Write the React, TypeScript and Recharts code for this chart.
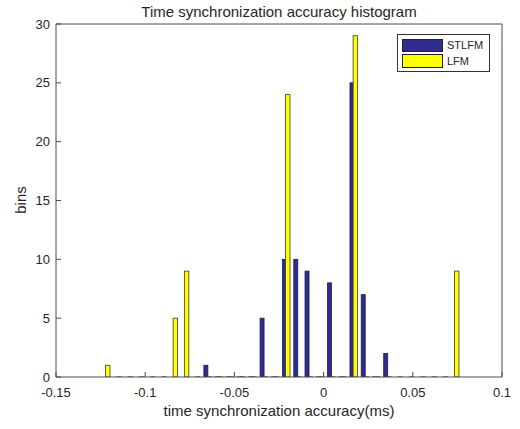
import React from 'react';
import { ComposedChart, Bar, XAxis, YAxis, Legend } from 'recharts';

// LFM histogram: bin centres and counts
const LFM_BINS = [
  -0.1209, -0.1146, -0.1083, -0.102, -0.0957, -0.0894, -0.083, -0.0767,
  -0.0704, -0.0641, -0.0578, -0.0515, -0.0452, -0.0389, -0.0326, -0.0263,
  -0.02, -0.0136, -0.0073, -0.001, 0.0053, 0.0116, 0.0179, 0.0242,
  0.0305, 0.0368, 0.0431, 0.0494, 0.0558, 0.0621, 0.0684, 0.0747,
];
const LFM_COUNTS = [
  1, 0, 0, 0, 0, 0, 5, 9,
  0, 0, 0, 0, 0, 0, 0, 0,
  24, 0, 0, 0, 0, 0, 29, 0,
  0, 0, 0, 0, 0, 0, 0, 9,
];

// STLFM histogram: bin centres and counts
const STLFM_BINS = [
  -0.0659, -0.0596, -0.0533, -0.047, -0.0407, -0.0344, -0.0281, -0.0218,
  -0.0155, -0.0092, -0.0029, 0.0034, 0.0097, 0.016, 0.0223, 0.0286, 0.0349,
];
const STLFM_COUNTS = [1, 0, 0, 0, 0, 5, 0, 10, 10, 9, 0, 8, 0, 25, 7, 0, 2];

const X_TICKS = [-0.15, -0.1, -0.05, 0, 0.05, 0.1];
const X_TICK_LABELS = ['-0.15', '-0.1', '-0.05', '0', '0.05', '0.1'];
const Y_TICKS = [0, 5, 10, 15, 20, 25, 30];

const SERIES_NAMES = ['STLFM', 'LFM'];

const NAVY = '#302c8e';
const YELLOW = '#ffff00';
const FONT = '"Liberation Sans", Arial, Helvetica, sans-serif';
const TEXT = '#262626';
const AXIS = '#4d4d4d';

type Row = { x: number; lfm?: number; stlfm?: number };

const rows: Row[] = [
  ...LFM_BINS.map((x, i) => ({ x, lfm: LFM_COUNTS[i] })),
  ...STLFM_BINS.map((x, i) => ({ x, stlfm: STLFM_COUNTS[i] })),
].sort((a, b) => a.x - b.x);

const makeShape = (key: 'lfm' | 'stlfm', fill: string, stroke: string, w: number) =>
  (props: any) => {
    const { x, y, width, height, payload } = props;
    if (!payload || payload[key] === undefined || payload[key] === null) return <g />;
    const cx = x + width / 2;
    if (!payload[key]) {
      const by = y + (height || 0);
      return <line x1={cx - 2.5} x2={cx + 2.5} y1={by} y2={by} stroke="#3a3a3a" strokeWidth={1.2} />;
    }
    return (
      <rect x={cx - w / 2} y={y} width={w} height={height} fill={fill} stroke={stroke} strokeWidth={0.8} />
    );
  };

const stlfmShape = makeShape('stlfm', NAVY, '#1c1a55', 4);
const lfmShape = makeShape('lfm', YELLOW, '#3a3a2a', 4.5);

const fmtX = (v: number) => {
  const i = X_TICKS.findIndex((t) => Math.abs(t - v) < 1e-9);
  return i >= 0 ? X_TICK_LABELS[i] : String(v);
};

const LegendBox = () => (
  <div
    style={{
      position: 'relative',
      width: 91,
      height: 36,
      border: '1px solid #333',
      background: '#fff',
      fontFamily: FONT,
      fontSize: 11,
      color: TEXT,
    }}
  >
    <div style={{ position: 'absolute', left: 4, top: 4, width: 41, height: 13, background: NAVY, boxSizing: 'border-box', border: '1px solid #222' }} />
    <div style={{ position: 'absolute', left: 49, top: 3, lineHeight: '15px' }}>{SERIES_NAMES[0]}</div>
    <div style={{ position: 'absolute', left: 4, top: 19, width: 41, height: 14, background: YELLOW, boxSizing: 'border-box', border: '1px solid #222' }} />
    <div style={{ position: 'absolute', left: 49, top: 18.5, lineHeight: '15px' }}>{SERIES_NAMES[1]}</div>
  </div>
);

export default function App() {
  return (
    <div style={{ position: 'absolute', left: 0, top: 0, width: 520, height: 429, background: '#fff', overflow: 'hidden' }}>
      <div
        style={{
          position: 'absolute', left: 56, width: 446, top: 3, textAlign: 'center',
          fontFamily: FONT, fontSize: 15, color: TEXT, lineHeight: '18px', whiteSpace: 'nowrap',
        }}
      >
        Time synchronization accuracy histogram
      </div>
      <ComposedChart
        width={520}
        height={429}
        data={rows}
        margin={{ top: 23, right: 17, left: 6, bottom: 22 }}
      >
        <XAxis
          dataKey="x"
          type="number"
          domain={[-0.15, 0.1]}
          allowDataOverflow
          ticks={X_TICKS}
          interval={0}
          tickFormatter={fmtX}
          height={30}
          tickSize={-5}
          tickMargin={16}
          axisLine={{ stroke: AXIS }}
          tickLine={{ stroke: AXIS }}
          tick={{ fill: TEXT, fontSize: 13, fontFamily: FONT }}
        />
        <XAxis
          xAxisId="top"
          orientation="top"
          type="number"
          domain={[-0.15, 0.1]}
          allowDataOverflow
          ticks={X_TICKS}
          interval={0}
          height={1}
          tickSize={-5}
          tick={false}
          axisLine={{ stroke: AXIS }}
          tickLine={{ stroke: AXIS }}
        />
        <YAxis
          type="number"
          domain={[0, 30]}
          allowDataOverflow
          ticks={Y_TICKS}
          interval={0}
          width={50}
          tickSize={-5}
          tickMargin={11}
          axisLine={{ stroke: AXIS }}
          tickLine={{ stroke: AXIS }}
          tick={{ fill: TEXT, fontSize: 13, fontFamily: FONT }}
        />
        <YAxis
          yAxisId="right"
          orientation="right"
          type="number"
          domain={[0, 30]}
          allowDataOverflow
          ticks={Y_TICKS}
          interval={0}
          width={1}
          tickSize={-5}
          tick={false}
          axisLine={{ stroke: AXIS }}
          tickLine={{ stroke: AXIS }}
        />
        <Legend
          layout="horizontal"
          align="center"
          verticalAlign="middle"
          wrapperStyle={{ left: 397, top: 34, width: 93, right: 'auto', bottom: 'auto' }}
          content={() => <LegendBox />}
        />
        <Bar dataKey="stlfm" name={SERIES_NAMES[0]} stackId="h" barSize={4} shape={stlfmShape} isAnimationActive={false} />
        <Bar dataKey="lfm" name={SERIES_NAMES[1]} stackId="h" barSize={4} shape={lfmShape} isAnimationActive={false} />
      </ComposedChart>
      <div
        style={{
          position: 'absolute', left: 56, width: 446, top: 402, textAlign: 'center',
          fontFamily: FONT, fontSize: 15, color: TEXT, lineHeight: '18px', whiteSpace: 'nowrap',
        }}
      >
        time synchronization accuracy(ms)
      </div>
      <div
        style={{
          position: 'absolute', left: 21, top: 200, transform: 'translate(-50%, -50%) rotate(-90deg)',
          fontFamily: FONT, fontSize: 15, color: TEXT, lineHeight: '18px', whiteSpace: 'nowrap',
        }}
      >
        bins
      </div>
    </div>
  );
}
